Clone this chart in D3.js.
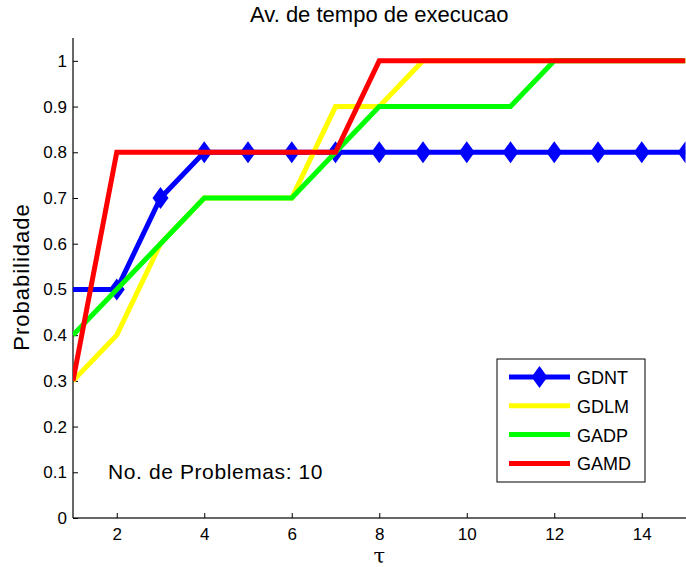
<!DOCTYPE html>
<html><head><meta charset="utf-8">
<script src="https://cdn.jsdelivr.net/npm/d3@7"></script>
<style>body{margin:0;background:#fff}svg{display:block}text{font-family:"Liberation Sans",Arial,sans-serif;fill:#000}</style>
</head><body>
<script>
const tau = [1,2,3,4,5,6,7,8,9,10,11,12,13,14,15];
const GDNT = [0.5,0.5,0.7,0.8,0.8,0.8,0.8,0.8,0.8,0.8,0.8,0.8,0.8,0.8,0.8];
const GDLM = [0.3,0.4,0.6,0.7,0.7,0.7,0.9,0.9,1,1,1,1,1,1,1];
const GADP = [0.4,0.5,0.6,0.7,0.7,0.7,0.8,0.9,0.9,0.9,0.9,1,1,1,1];
const GAMD = [0.3,0.8,0.8,0.8,0.8,0.8,0.8,1,1,1,1,1,1,1,1];
const seriesNames = ["GDNT","GDLM","GADP","GAMD"];
const seriesColors = ["#0000ff","#ffff00","#00ff00","#ff0000"];
const xTicks = [2,4,6,8,10,12,14];
const yTicks = [0,0.1,0.2,0.3,0.4,0.5,0.6,0.7,0.8,0.9,1];

const W=686,H=567;
const L=73,R=685.5,T=38,B=518;
const svg=d3.select("body").append("svg").attr("width",W).attr("height",H);
const x=d3.scaleLinear().domain([1,15]).range([L,R]);
const y=d3.scaleLinear().domain([0,1.05]).range([B,T]);

svg.append("defs").append("clipPath").attr("id","clip").append("rect")
  .attr("x",L).attr("y",T-10).attr("width",R-L).attr("height",B-T+10);

// axes
const xa=svg.append("g").attr("transform",`translate(0,${B})`)
  .call(d3.axisBottom(x).tickValues(xTicks).tickSize(-5).tickPadding(10).tickFormat(d3.format("d")));
const ya=svg.append("g").attr("transform",`translate(${L},0)`)
  .call(d3.axisLeft(y).tickValues(yTicks).tickSize(-5).tickPadding(6).tickFormat(d=>d===0?"0":d===1?"1":d3.format(".1f")(d)));
[xa,ya].forEach(a=>{a.selectAll("text").style("font-size","17px").style("font-family",'"Liberation Sans",Arial,sans-serif');
  a.select(".domain").attr("stroke","#000").attr("stroke-width",1.2);
  a.selectAll(".tick line").attr("stroke","#000");});
xa.select(".domain").attr("d",`M${L},0H${W}`).attr("stroke","#333").attr("stroke-width",1.5);
ya.select(".domain").attr("d",`M0,${B}V${T}`);

const plot=svg.append("g").attr("clip-path","url(#clip)");
const line=d3.line().x((d,i)=>x(tau[i])).y(d=>y(d));
const data=[GDNT,GDLM,GADP,GAMD];
data.forEach((s,k)=>{
  plot.append("path").datum(s).attr("d",line).attr("fill","none")
    .attr("stroke",seriesColors[k]).attr("stroke-width",5).attr("stroke-linejoin","miter");
  if(k===0){
    plot.selectAll(".dm").data(s.slice(1)).enter().append("path")
      .attr("d","M0,-11L8,0L0,11L-8,0Z").attr("fill",seriesColors[0])
      .attr("transform",(d,i)=>`translate(${x(tau[i+1])},${y(d)})`);
  }
});

// title & labels
svg.append("text").attr("x",(L+R)/2).attr("y",22).attr("text-anchor","middle").style("font-size","22px").text("Av. de tempo de execucao");
svg.append("text").attr("x",(L+R)/2).attr("y",563).attr("text-anchor","middle").style("font-size","21px").style("font-family","'DejaVu Serif',serif").text("τ");
svg.append("text").attr("transform",`translate(29,277) rotate(-90)`).attr("text-anchor","middle").style("font-size","22px").style("letter-spacing","1px").text("Probabilidade");
svg.append("text").attr("x",108).attr("y",479).style("font-size","21px").style("letter-spacing","0.6px").text("No. de Problemas: 10");

// legend
const lg=svg.append("g");
lg.append("rect").attr("x",497).attr("y",359).attr("width",148).attr("height",123).attr("fill","#fff").attr("stroke","#000").attr("stroke-width",1);
seriesNames.forEach((n,k)=>{
  const yy=377+k*28.8;
  lg.append("line").attr("x1",509).attr("x2",570).attr("y1",yy).attr("y2",yy).attr("stroke",seriesColors[k]).attr("stroke-width",5);
  if(k===0) lg.append("path").attr("d","M0,-11L8,0L0,11L-8,0Z").attr("fill",seriesColors[0]).attr("transform",`translate(539.5,${yy})`);
  lg.append("text").attr("x",577).attr("y",yy+7).style("font-size","18px").text(n);
});
</script>
</body></html>
